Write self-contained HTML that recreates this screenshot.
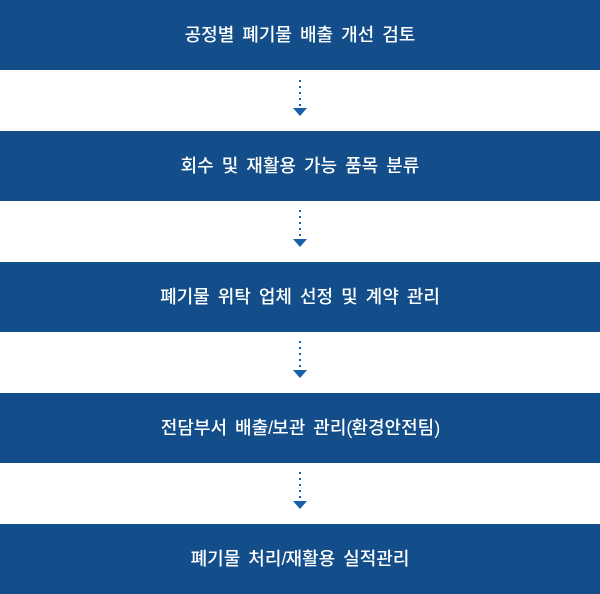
<!DOCTYPE html>
<html>
<head>
<meta charset="utf-8">
<style>
  html,body{margin:0;padding:0;background:#fff;}
  body{width:600px;height:594px;position:relative;overflow:hidden;
    font-family:"Liberation Sans","Noto Sans CJK KR",sans-serif;}
  .box{position:absolute;left:0;width:600px;height:70px;background:#134e8a;
    color:#fff;font-size:18px;line-height:70px;text-align:center;font-weight:500;
    word-spacing:3px;}
  .p{letter-spacing:-1px;}
  .dot{position:absolute;left:299px;width:2px;height:2px;background:#1a5ea8;}
  .arr{position:absolute;left:293px;width:0;height:0;border-left:7px solid transparent;
    border-right:7px solid transparent;border-top:8px solid #1a5ea8;}
</style>
</head>
<body>
<div class="box" style="top:0;">공정별 폐기물 배출 개선 검토</div>
<div class="box" style="top:131px;">회수 및 재활용 가능 품목 분류</div>
<div class="box" style="top:262px;">폐기물 위탁 업체 선정 및 계약 관리</div>
<div class="box" style="top:393px;">전담부서 배출<span class="p">/</span>보관 관리<span class="p">(</span>환경안전팀<span class="p">)</span></div>
<div class="box" style="top:524px;">폐기물 처리<span class="p">/</span>재활용 실적관리</div>

<!-- connector 1 -->
<div class="dot" style="top:80px"></div>
<div class="dot" style="top:86px"></div>
<div class="dot" style="top:92px"></div>
<div class="dot" style="top:98px"></div>
<div class="dot" style="top:104px"></div>
<div class="arr" style="top:108px"></div>

<!-- connector 2 -->
<div class="dot" style="top:210px"></div>
<div class="dot" style="top:216px"></div>
<div class="dot" style="top:222px"></div>
<div class="dot" style="top:228px"></div>
<div class="dot" style="top:234px"></div>
<div class="arr" style="top:239px"></div>

<!-- connector 3 -->
<div class="dot" style="top:341px"></div>
<div class="dot" style="top:347px"></div>
<div class="dot" style="top:353px"></div>
<div class="dot" style="top:359px"></div>
<div class="dot" style="top:365px"></div>
<div class="arr" style="top:370px"></div>

<!-- connector 4 -->
<div class="dot" style="top:472px"></div>
<div class="dot" style="top:478px"></div>
<div class="dot" style="top:484px"></div>
<div class="dot" style="top:490px"></div>
<div class="dot" style="top:496px"></div>
<div class="arr" style="top:501px"></div>
</body>
</html>
